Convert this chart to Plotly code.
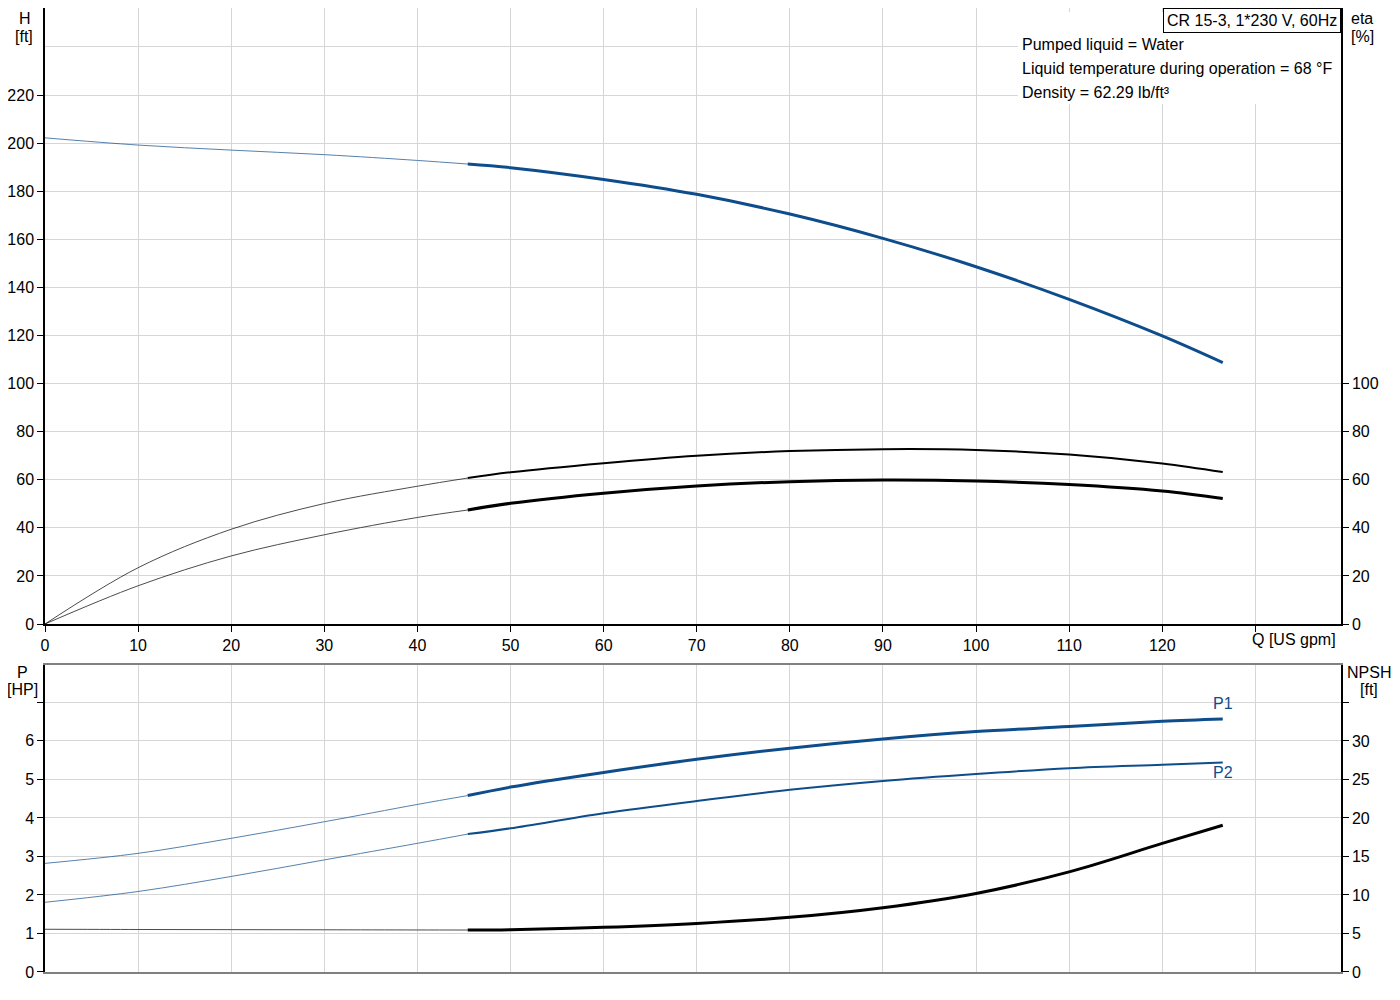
import plotly.graph_objects as go

# flow points, thin (outside duty range) and thick (duty range)
q_thin = [0, 10, 20, 30, 40, 45.4]
q_duty = [45.4, 50, 60, 70, 80, 90, 100, 110, 120, 126.5]

# head [ft]
h_thin = [202.2, 199.2, 197.1, 195.2, 192.8, 191.3]
h_duty = [191.3, 189.8, 184.9, 178.7, 170.5, 160.4, 148.6, 135.0, 119.8, 108.7]

# efficiencies [%]
eta1_thin = [0, 23.4, 39.4, 50.1, 57.3, 60.7]
eta1_duty = [60.7, 63.1, 66.9, 70.0, 71.9, 72.7, 72.4, 70.5, 66.8, 63.2]
eta2_thin = [0, 15.9, 28.3, 37.1, 44.3, 47.4]
eta2_duty = [47.4, 50.2, 54.4, 57.4, 59.2, 59.9, 59.5, 58.0, 55.3, 52.2]

# power [HP]
p1_thin = [2.82, 3.08, 3.47, 3.90, 4.35, 4.58]
p1_duty = [4.58, 4.80, 5.18, 5.52, 5.81, 6.05, 6.24, 6.37, 6.51, 6.57]
p2_thin = [1.81, 2.09, 2.48, 2.91, 3.34, 3.58]
p2_duty = [3.58, 3.73, 4.12, 4.44, 4.73, 4.96, 5.14, 5.29, 5.38, 5.44]

# NPSH [ft]
npsh_thin = [5.55, 5.52, 5.50, 5.48, 5.46, 5.45]
npsh_duty = [5.45, 5.50, 5.80, 6.30, 7.10, 8.35, 10.2, 13.0, 16.7, 19.05]

q_ticks = list(range(0, 140, 10))
q_labels = [str(v) for v in q_ticks[:-1]] + ['']
h_ticks = list(range(0, 240, 20))
eta_ticks = list(range(0, 120, 20))
p_ticks = list(range(0, 8))
p_labels = [str(v) for v in p_ticks[:-1]] + ['']
npsh_ticks = list(range(0, 40, 5))
npsh_labels = [str(v) for v in npsh_ticks[:-1]] + ['']

BLUE = '#0e4d8c'
GRID = '#d6d6d6'
FONT = 'Liberation Sans, Arial, sans-serif'
FS = 16

fig = go.Figure()


def add_curve(fig, x_thin, y_thin, x_duty, y_duty, color, width, xaxis, yaxis):
    fig.add_trace(go.Scatter(x=x_thin, y=y_thin, mode='lines', xaxis=xaxis, yaxis=yaxis,
                             line=dict(color=color, width=1, shape='spline'),
                             opacity=0.7, showlegend=False, hoverinfo='skip'))
    fig.add_trace(go.Scatter(x=x_duty, y=y_duty, mode='lines', xaxis=xaxis, yaxis=yaxis,
                             line=dict(color=color, width=width, shape='spline'),
                             showlegend=False))


add_curve(fig, q_thin, h_thin, q_duty, h_duty, BLUE, 3, 'x', 'y')
add_curve(fig, q_thin, eta1_thin, q_duty, eta1_duty, 'black', 2, 'x', 'y2')
add_curve(fig, q_thin, eta2_thin, q_duty, eta2_duty, 'black', 3, 'x', 'y2')
add_curve(fig, q_thin, p1_thin, q_duty, p1_duty, BLUE, 3, 'x2', 'y3')
add_curve(fig, q_thin, p2_thin, q_duty, p2_duty, BLUE, 2, 'x2', 'y3')
add_curve(fig, q_thin, npsh_thin, q_duty, npsh_duty, 'black', 3, 'x2', 'y4')

axis_common = dict(showline=True, linecolor='black', linewidth=1.5, ticks='outside',
                   ticklen=6, tickcolor='black', zeroline=False,
                   tickfont=dict(size=FS, color='black'))

# the page body adds an 8 px margin, so the figure is a bit smaller than the window
fig.update_layout(
    width=1392, height=992,
    margin=dict(l=37, r=59, t=0, b=28),
    plot_bgcolor='white', paper_bgcolor='white',
    font=dict(family=FONT, size=FS, color='black'),
    xaxis=dict(domain=[0, 1], anchor='y', range=[0, 139.2], tickmode='array',
               tickvals=q_ticks, ticktext=q_labels, showgrid=True, gridcolor=GRID,
               **axis_common),
    yaxis=dict(domain=[0.361, 1], anchor='x', range=[0, 256.2], tickmode='array',
               tickvals=h_ticks, showgrid=True, gridcolor=GRID,
               minor=dict(tickvals=[240], showgrid=True, gridcolor=GRID, ticks=''),
               **axis_common),
    yaxis2=dict(overlaying='y', side='right', anchor='x', range=[0, 256.2],
                tickmode='array', tickvals=eta_ticks, showgrid=False, **axis_common),
    xaxis2=dict(domain=[0, 1], anchor='y3', matches='x', range=[0, 139.2],
                tickmode='array', tickvals=q_ticks, showticklabels=False,
                showgrid=True, gridcolor=GRID, showline=True, linecolor='#808080',
                linewidth=1.5, mirror=True, ticks='', zeroline=False),
    yaxis3=dict(domain=[0, 0.3185], anchor='x2', range=[0, 7.97], tickmode='array',
                tickvals=p_ticks, ticktext=p_labels, showgrid=True, gridcolor=GRID,
                **axis_common),
    yaxis4=dict(overlaying='y3', side='right', anchor='x2', range=[0, 39.87],
                tickmode='array', tickvals=npsh_ticks, ticktext=npsh_labels,
                showgrid=False, **axis_common),
)

# white area behind the liquid info text
fig.add_shape(type='rect', xref='x', yref='y', x0=104.5, x1=139.2, y0=216.3, y1=254.5,
              fillcolor='white', line=dict(width=0), layer='between')


def px_x(px):
    return (px - 45) / 1296


def px_y(py):
    return (972 - py) / 964


labels = [('eta', 1362, 'top', 8), ('[%]', 1362, 'top', 26),
          ('H', 25, 'top', 8), ('[ft]', 24, 'top', 26),
          ('P', 22, 'middle', 672), ('[HP]', 22, 'middle', 690),
          ('NPSH', 1369, 'middle', 672), ('[ft]', 1369, 'middle', 690)]
for text, lx, anchor, ly in labels:
    fig.add_annotation(text=text, xref='paper', yref='paper', x=px_x(lx), y=px_y(ly),
                       xanchor='center', yanchor=anchor, showarrow=False,
                       font=dict(size=FS, color='black'))

fig.add_annotation(text='Q [US gpm]', xref='paper', yref='paper', x=px_x(1250), y=px_y(639),
                   xanchor='left', yanchor='middle', showarrow=False, font=dict(size=FS))

info = ['Pumped liquid = Water', 'Liquid temperature during operation = 68 °F',
        'Density = 62.29 lb/ft³']
for i, line in enumerate(info):
    fig.add_annotation(text=line, xref='x', yref='y', x=104.7, y=241.2 - 10 * i,
                       xanchor='left', yanchor='middle', showarrow=False, font=dict(size=FS))

fig.add_annotation(text='CR 15-3, 1*230 V, 60Hz', xref='paper', yref='paper', x=1, y=1,
                   xanchor='right', yanchor='top', showarrow=False, font=dict(size=FS),
                   bgcolor='white', bordercolor='black', borderwidth=1, borderpad=3)

fig.add_annotation(text='P1', xref='x2', yref='y3', x=126.5, y=6.96, showarrow=False,
                   font=dict(size=FS, color=BLUE))
fig.add_annotation(text='P2', xref='x2', yref='y3', x=126.5, y=5.19, showarrow=False,
                   font=dict(size=FS, color=BLUE))

fig.write_html("out.html")
